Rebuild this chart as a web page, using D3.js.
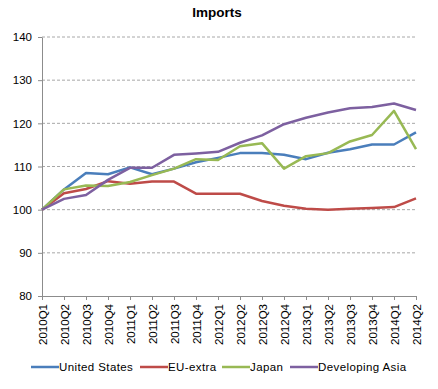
<!DOCTYPE html>
<html><head><meta charset="utf-8">
<script src="https://cdn.jsdelivr.net/npm/d3@7"></script>
<style>body{margin:0;background:#fff;} text{font-family:"Liberation Sans",Arial,sans-serif;}</style>
</head><body><svg id="c" width="438" height="389"></svg>
<script>
const categories = ["2010Q1","2010Q2","2010Q3","2010Q4","2011Q1","2011Q2","2011Q3","2011Q4","2012Q1","2012Q2","2012Q3","2012Q4","2013Q1","2013Q2","2013Q3","2013Q4","2014Q1","2014Q2"];
const unitedStates = [100,104.7,108.5,108.2,109.8,108.2,109.5,111,112,113.1,113.1,112.7,111.7,113.2,114,115.1,115.1,117.9];
const euExtra = [100,103.8,104.8,106.6,106,106.5,106.5,103.7,103.7,103.7,102,100.9,100.2,100,100.2,100.4,100.6,102.6];
const japan = [100,104.7,105.6,105.5,106.4,108,109.5,111.7,111.5,114.7,115.4,109.5,112.4,113.1,115.8,117.3,122.9,114];
const developingAsia = [100,102.5,103.4,106.9,109.7,109.7,112.7,113,113.4,115.5,117.2,119.8,121.3,122.5,123.5,123.8,124.6,123.1];
const seriesNames = ["United States","EU-extra","Japan","Developing Asia"];
const seriesColors = ["#4a7ebb","#be4b48","#98b954","#7d60a0"];
const yTicks = [80,90,100,110,120,130,140];

const series = [unitedStates, euExtra, japan, developingAsia];
const svg = d3.select("#c");
const L = 42, R = 416, T = 37, B = 296;
const x = d3.scalePoint().domain(categories).range([L, R]);
const y = d3.scaleLinear().domain([80, 140]).range([B, T]);

svg.append("text").attr("x", 217).attr("y", 17).attr("text-anchor", "middle")
  .attr("font-weight", "bold").attr("font-size", 13.5).text("Imports");

// gridlines
svg.append("g").selectAll("line").data(yTicks.filter(d => d > 80)).join("line")
  .attr("x1", L).attr("x2", R).attr("y1", d => y(d)).attr("y2", d => y(d))
  .attr("stroke", "#a8a8a8").attr("stroke-dasharray", "3,2").attr("stroke-width", 1);

const yAxis = svg.append("g").attr("transform", `translate(${L},0)`)
  .call(d3.axisLeft(y).tickValues(yTicks).tickSize(4).tickPadding(6).tickSizeOuter(0));
yAxis.selectAll("text").attr("font-size", 11.5).attr("fill", "#000");
yAxis.selectAll("line,path").attr("stroke", "#8c8c8c");

const xAxis = svg.append("g").attr("transform", `translate(0,${B})`)
  .call(d3.axisBottom(x).tickSize(4).tickSizeOuter(0));
xAxis.select("path").attr("stroke", "#8c8c8c");
xAxis.selectAll("line").attr("stroke", "#8c8c8c");
xAxis.selectAll("text").attr("font-size", 11.5).attr("fill", "#000")
  .attr("transform", "rotate(-90)").attr("text-anchor", "end")
  .attr("x", -8).attr("y", 0).attr("dy", "0.35em");

const line = d3.line().x((d, i) => x(categories[i])).y(d => y(d));
series.forEach((s, k) => {
  svg.append("path").datum(s).attr("d", line).attr("fill", "none")
    .attr("stroke", seriesColors[k]).attr("stroke-width", 2.5).attr("stroke-linejoin", "round");
});

// legend
const legendX = [31, 140, 222, 290];
const lg = svg.append("g");
seriesNames.forEach((n, k) => {
  lg.append("line").attr("x1", legendX[k]).attr("x2", legendX[k] + 28)
    .attr("y1", 367).attr("y2", 367).attr("stroke", seriesColors[k]).attr("stroke-width", 2.5);
  lg.append("text").attr("x", legendX[k] + 28).attr("y", 371).attr("font-size", 11.5)
    .attr("letter-spacing", 0.4).text(n);
});
</script></body></html>
